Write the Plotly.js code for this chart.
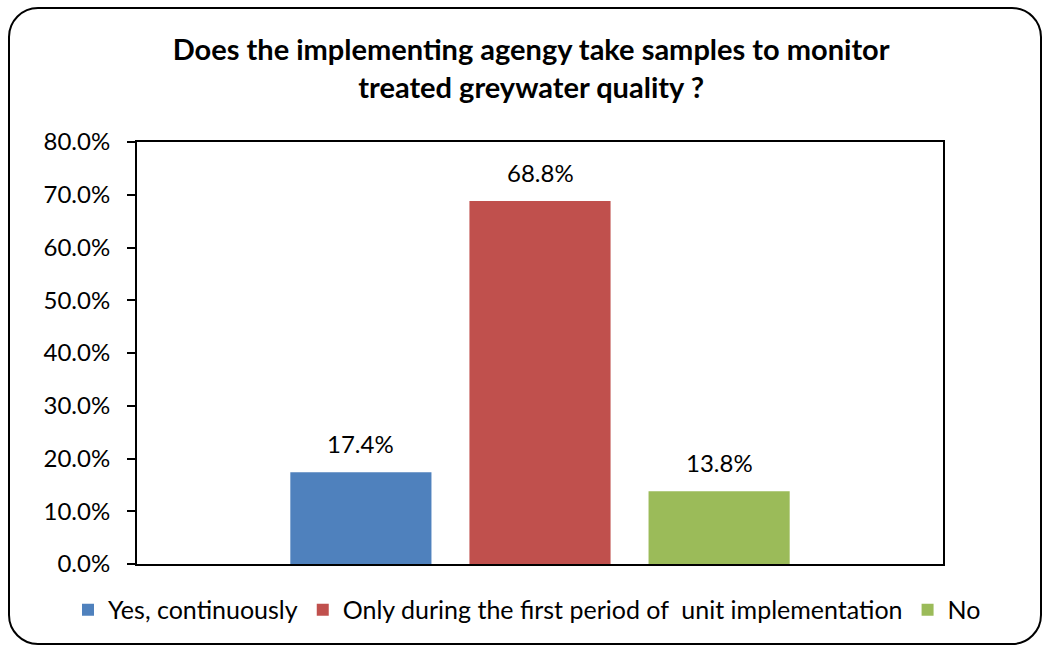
<!DOCTYPE html>
<html>
<head>
<meta charset="utf-8">
<script src="https://cdn.plot.ly/plotly-3.0.1.min.js"></script>
<style>
html,body{margin:0;padding:0;background:#fff;}
#chart{width:1045px;height:646px;position:absolute;left:0;top:0;}
#frame{position:absolute;left:8px;top:7px;width:1030px;height:634px;border:2px solid #000;border-radius:30px;pointer-events:none;}
</style>
</head>
<body>
<div id="chart"></div>
<div id="frame"></div>
<script>
const categories = ["Yes, continuously", "Only during the first period of  unit implementation", "No"];
const values = [17.4, 68.8, 13.8];
const colors = ["#4F81BD", "#C0504D", "#9BBB59"];
const titleText = "Does the implementing agengy take samples to monitor<br>treated greywater quality ?";
const yTicks = [0, 10, 20, 30, 40, 50, 60, 70, 80];

const FONT = "Lato, 'Open Sans', sans-serif";

const traces = categories.map((c, i) => ({
  type: "bar",
  name: c,
  x: [i],
  y: [values[i]],
  width: 0.788,
  marker: {color: colors[i]},
  hoverinfo: "skip"
}));

const annotations = categories.map((c, i) => ({
  x: i, y: values[i], xref: "x", yref: "y",
  text: values[i].toFixed(1) + "%",
  showarrow: false, yanchor: "bottom", yshift: 12,
  font: {family: FONT, size: 24, color: "#000"}
}));

const layout = {
  width: 1045, height: 646,
  margin: {l: 137, r: 102, t: 142, b: 82},
  paper_bgcolor: "#fff", plot_bgcolor: "#fff",
  barmode: "overlay",
  showlegend: true,
  title: {
    text: "<b>" + titleText + "</b>",
    font: {family: FONT, size: 29, color: "#000"},
    x: 0.489, xanchor: "center", xref: "paper",
    y: 1 - 60/646, yanchor: "middle", yref: "container"
  },
  xaxis: {
    type: "linear", range: [-1.25, 3.25],
    showticklabels: false, ticks: "", showgrid: false, zeroline: false,
    showline: true, linecolor: "#000", linewidth: 2, mirror: true, fixedrange: true
  },
  yaxis: {
    range: [0, 80], tickvals: yTicks,
    ticktext: yTicks.map(v => v.toFixed(1) + "%"),
    ticks: "outside", ticklen: 8, tickwidth: 2, tickcolor: "#000",
    ticklabelstandoff: 12,
    showgrid: false, zeroline: false,
    showline: true, linecolor: "#000", linewidth: 2, mirror: true,
    tickfont: {family: FONT, size: 24, color: "#000"}, fixedrange: true
  },
  legend: {
    orientation: "h", xref: "paper", yref: "paper",
    x: (68 - 137) / 806, xanchor: "left", y: -0.109, yanchor: "middle",
    font: {family: FONT, size: 25, color: "#000"},
    itemwidth: 30,
    traceorder: "normal", itemclick: false, itemdoubleclick: false
  },
  annotations: annotations
};

Plotly.newPlot("chart", traces, layout, {displayModeBar: false, staticPlot: true});
</script>
</body>
</html>
